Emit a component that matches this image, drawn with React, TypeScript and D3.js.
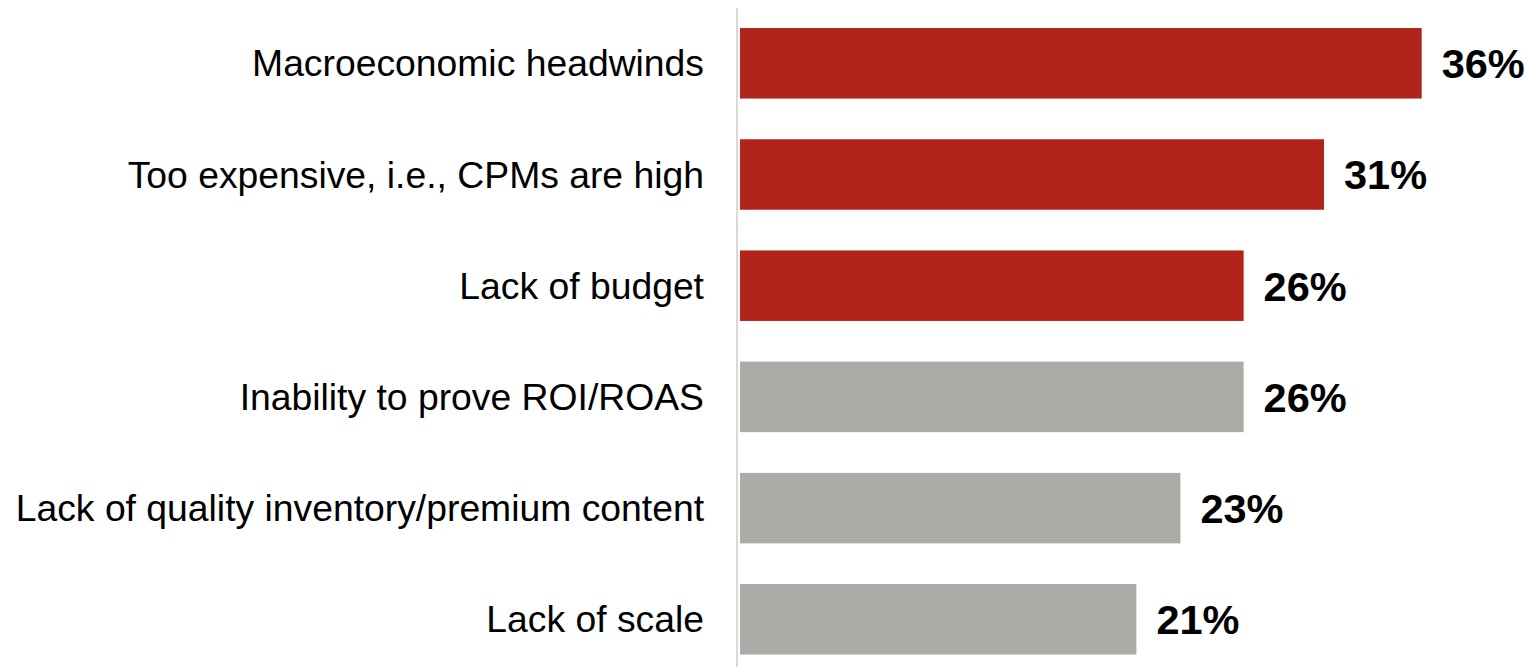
import React, { useRef, useEffect } from "react";
import * as d3 from "d3";

const categories = [
  "Macroeconomic headwinds",
  "Too expensive, i.e., CPMs are high",
  "Lack of budget",
  "Inability to prove ROI/ROAS",
  "Lack of quality inventory/premium content",
  "Lack of scale",
];
const values = [35.6, 30.5, 26.3, 26.3, 23.0, 20.7];
const highlighted = [true, true, true, false, false, false];

export default function App() {
  const ref = useRef<SVGSVGElement | null>(null);

  useEffect(() => {
    const width = 1529;
    const height = 667;

    d3.select(ref.current).selectAll("*").remove();

    const svg = d3
      .select(ref.current)
      .attr("width", width)
      .attr("height", height)
      .style("background-color", "#ffffff");

    const data = categories.map((c, i) => ({
      label: c,
      value: values[i],
      hi: highlighted[i],
    }));

    const x = d3
      .scaleLinear()
      .domain([0, d3.max(values) || 0])
      .range([740, 1421.7]);

    const y = d3
      .scaleBand()
      .domain(categories)
      .range([7.7, 674.9])
      .paddingInner(0.366)
      .paddingOuter(0.183);

    // baseline axis
    svg
      .append("line")
      .attr("x1", x(0) - 3)
      .attr("x2", x(0) - 3)
      .attr("y1", 8)
      .attr("y2", 675)
      .attr("stroke", "#d9d9d9")
      .attr("stroke-width", 2);

    svg
      .selectAll("rect.bar")
      .data(data)
      .join("rect")
      .attr("class", "bar")
      .attr("x", x(0))
      .attr("y", (d) => y(d.label)!)
      .attr("width", (d) => x(d.value) - x(0))
      .attr("height", y.bandwidth())
      .attr("fill", (d) => (d.hi ? "#b2231b" : "#abaca7"));

    // category labels
    svg
      .selectAll("text.cat")
      .data(data)
      .join("text")
      .attr("class", "cat")
      .attr("x", 704)
      .attr("y", (d) => y(d.label)! + y.bandwidth() / 2)
      .attr("dy", "0.35em")
      .attr("text-anchor", "end")
      .style("font-family", "'Liberation Sans', Arial, sans-serif")
      .style("font-size", "37.3px")
      .attr("fill", "#000")
      .text((d) => d.label);

    // value labels
    svg
      .selectAll("text.val")
      .data(data)
      .join("text")
      .attr("class", "val")
      .attr("x", (d) => x(d.value) + 20)
      .attr("y", (d) => y(d.label)! + y.bandwidth() / 2)
      .attr("dy", "0.36em")
      .style("font-family", "'Liberation Sans', Arial, sans-serif")
      .style("font-size", "41.5px")
      .style("font-weight", "bold")
      .attr("fill", "#000")
      .text((d) => `${Math.round(d.value)}%`);
  }, []);

  return (
    <svg
      ref={ref}
      style={{ position: "absolute", left: 0, top: 0, display: "block" }}
    ></svg>
  );
}
